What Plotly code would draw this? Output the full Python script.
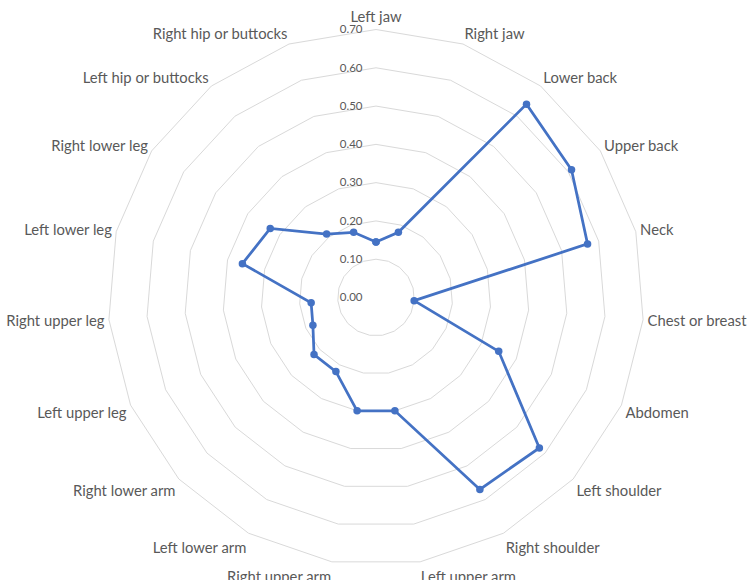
import plotly.graph_objects as go

# Body regions, clockwise from the top
regions = [
    "Left jaw", "Right jaw", "Lower back", "Upper back", "Neck",
    "Chest or breast", "Abdomen", "Left shoulder", "Right shoulder",
    "Left upper arm", "Right upper arm", "Left lower arm", "Right lower arm",
    "Left upper leg", "Right upper leg", "Left lower leg", "Right lower leg",
    "Left hip or buttocks", "Right hip or buttocks",
]
values = [
    0.145, 0.18, 0.64, 0.61, 0.57,
    0.10, 0.35, 0.58, 0.57,
    0.30, 0.30, 0.22, 0.22,
    0.18, 0.17, 0.36, 0.33,
    0.21, 0.18,
]
radial_ticks = [0.0, 0.1, 0.2, 0.3, 0.4, 0.5, 0.6, 0.7]

grid_color = "#D9D9D9"
text_color = "#595959"
line_color = "#4472C4"

W, H = 753, 580
cx, cy, R = 376, 297.5, 268

fig = go.Figure()
fig.add_trace(go.Scatterpolar(
    r=values + values[:1],
    theta=regions + regions[:1],
    mode="lines+markers",
    line=dict(color=line_color, width=2.75),
    marker=dict(color=line_color, size=7.5),
    hoverinfo="r+theta",
))

fig.update_layout(
    width=W,
    height=H,
    paper_bgcolor="white",
    plot_bgcolor="white",
    margin=dict(l=0, r=0, t=0, b=0),
    showlegend=False,
    font=dict(family="Lato", color=text_color),
    polar=dict(
        domain=dict(x=[(cx - R) / W, (cx + R) / W], y=[1 - (cy + R) / H, 1 - (cy - R) / H]),
        gridshape="linear",
        bgcolor="white",
        angularaxis=dict(
            direction="clockwise",
            rotation=90,
            categoryorder="array",
            categoryarray=regions,
            showgrid=False,
            showline=True,
            linecolor=grid_color,
            linewidth=1,
            ticks="outside",
            ticklen=1,
            tickcolor="rgba(0,0,0,0)",
            tickfont=dict(size=14.8, color=text_color),
        ),
        radialaxis=dict(
            range=[0, 0.7],
            tickvals=radial_ticks,
            tickformat=".2f",
            angle=90,
            tickangle=90,
            side="counterclockwise",
            showline=False,
            ticks="outside",
            ticklen=9,
            tickcolor="rgba(0,0,0,0)",
            gridcolor=grid_color,
            gridwidth=1,
            tickfont=dict(size=11.5, color=text_color),
        ),
    ),
)

# drop the default page margin so the figure fills the window exactly
fig.write_html(
    "out.html",
    config={"displayModeBar": False},
    post_script="document.body.style.margin = '0px';",
)
